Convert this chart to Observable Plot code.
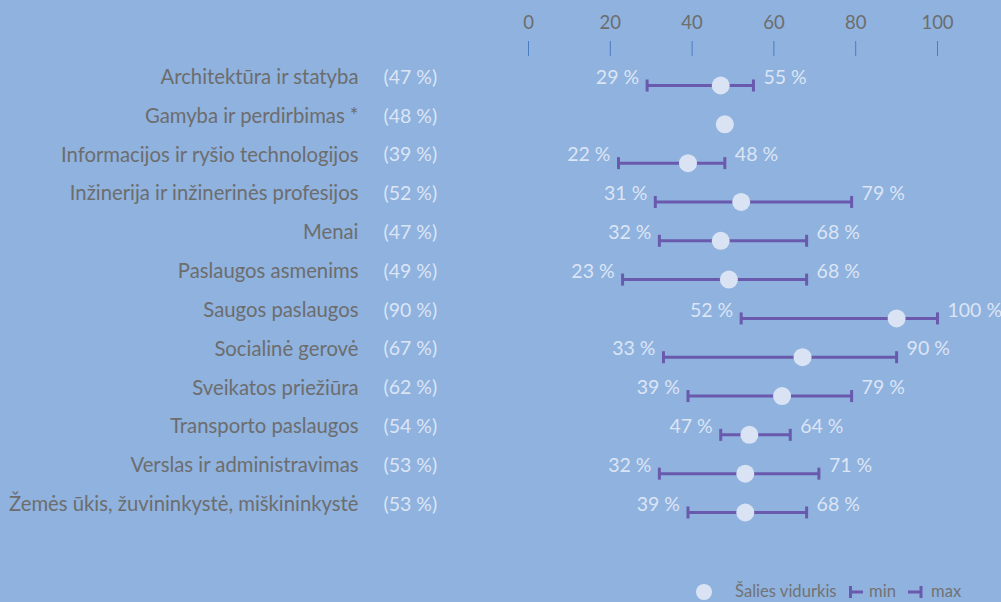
<!DOCTYPE html>
<html>
<head>
<meta charset="utf-8">
<script src="https://cdn.jsdelivr.net/npm/d3@7"></script>
<script src="https://cdn.jsdelivr.net/npm/@observablehq/plot@0.6"></script>
<style>
  html, body { margin: 0; padding: 0; background: #8fb2df; }
  #wrap { position: relative; width: 1001px; height: 602px; overflow: hidden; font-family: Lato, sans-serif; }
  #legend { position: absolute; top: 580px; left: 0; width: 1001px; height: 22px; font-size: 16.6px; color: #737373; }
  #legend .it { position: absolute; top: 0; line-height: 22px; white-space: nowrap; }
  #legend svg { position: absolute; top: 0; }
</style>
</head>
<body>
<div id="wrap">
  <div id="chart"></div>
  <div id="legend">
    <svg style="left:695px" width="18" height="22"><circle cx="9" cy="12" r="8" fill="#dae3f3"></circle></svg>
    <span class="it" style="left:735px">Šalies vidurkis</span>
    <svg style="left:849px" width="16" height="22"><path d="M1.5,6V18M1.5,12H14" stroke="#6a5aae" stroke-width="3" fill="none"></path></svg>
    <span class="it" style="left:869px">min</span>
    <svg style="left:907px" width="16" height="22"><path d="M14,6V18M1,12H14" stroke="#6a5aae" stroke-width="3" fill="none"></path></svg>
    <span class="it" style="left:931px">max</span>
  </div>
</div>
<script>
const categories = [
  "Architektūra ir statyba",
  "Gamyba ir perdirbimas *",
  "Informacijos ir ryšio technologijos",
  "Inžinerija ir inžinerinės profesijos",
  "Menai",
  "Paslaugos asmenims",
  "Saugos paslaugos",
  "Socialinė gerovė",
  "Sveikatos priežiūra",
  "Transporto paslaugos",
  "Verslas ir administravimas",
  "Žemės ūkis, žuvininkystė, miškininkystė"
];
const avgValues = [47, 48, 39, 52, 47, 49, 90, 67, 62, 54, 53, 53];
const minValues = [29, null, 22, 31, 32, 23, 52, 33, 39, 47, 32, 39];
const maxValues = [55, null, 48, 79, 68, 68, 100, 90, 79, 64, 71, 68];
const xTicks = [0, 20, 40, 60, 80, 100];

const data = categories.map((c, i) => ({cat: c, avg: avgValues[i], min: minValues[i], max: maxValues[i]}));
const ranged = data.filter(d => d.min != null);

const purple = "#6a5aae";
const light = "#dce5f4";
const gray = "#6d6d6d";
const dotFill = "#dae3f3";

const capSymbol = {
  draw(context, size) {
    context.moveTo(0, -6);
    context.lineTo(0, 6);
  }
};

const chart = Plot.plot({
  width: 1001,
  height: 572,
  marginLeft: 528,
  marginRight: 64,
  marginTop: 55,
  marginBottom: 46,
  style: {background: "transparent", fontFamily: "Lato, sans-serif", fontSize: "18px"},
  x: {domain: [0, 100], axis: null},
  y: {type: "point", domain: categories, padding: 0.567, round: false, axis: null},
  marks: [
    Plot.axisX({anchor: "top", ticks: xTicks, tickSize: 15, tickPadding: 12, stroke: "#4a7cc4", fill: gray, fontSize: 18.5, label: null}),
    Plot.axisY({anchor: "left", tickSize: 0, tickPadding: 170, fill: gray, fontSize: 20.3, label: null}),
    Plot.text(data, {y: "cat", frameAnchor: "left", dx: -145, textAnchor: "start", text: d => `(${d.avg} %)`, fill: light, fontSize: 19.5}),
    Plot.ruleY(ranged, {y: "cat", x1: "min", x2: "max", stroke: purple, strokeWidth: 3, dy: 8}),
    Plot.dot(ranged, {x: "min", y: "cat", symbol: capSymbol, stroke: purple, strokeWidth: 3, dy: 8}),
    Plot.dot(ranged, {x: "max", y: "cat", symbol: capSymbol, stroke: purple, strokeWidth: 3, dy: 8}),
    Plot.text(ranged, {x: "min", y: "cat", text: d => `${d.min} %`, textAnchor: "end", dx: -8, fill: light, fontSize: 19.5}),
    Plot.text(ranged, {x: "max", y: "cat", text: d => `${d.max} %`, textAnchor: "start", dx: 10, fill: light, fontSize: 19.5}),
    Plot.dot(data, {x: "avg", y: "cat", r: 9, fill: dotFill, stroke: "none", dy: 8})
  ]
});
document.getElementById("chart").appendChild(chart);
</script>
</body>
</html>
